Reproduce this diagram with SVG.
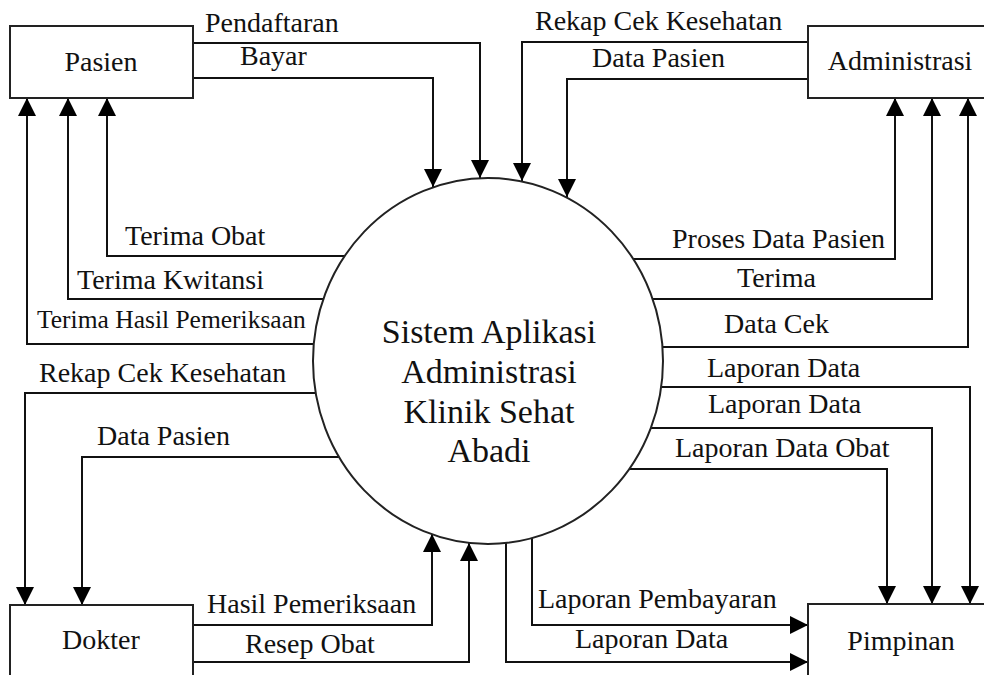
<svg xmlns="http://www.w3.org/2000/svg" width="984" height="675" viewBox="0 0 984 675">
<defs>
<marker id="ah" markerUnits="userSpaceOnUse" markerWidth="18" markerHeight="18" viewBox="0 0 16 16" refX="16" refY="8" orient="auto">
<path d="M0,0 L16,8 L0,16 Z" fill="#000"/>
</marker>
<style>
.box{fill:#fff;stroke:#222;stroke-width:2}
.ln{fill:none;stroke:#111;stroke-width:2}
.ar{marker-end:url(#ah)}
text{font-family:"Liberation Serif","Times New Roman",serif;fill:#111}
.lb{font-size:28px}
.sm{font-size:25.5px}
.nd{font-size:28px;text-anchor:middle}
.ct{font-size:34px;text-anchor:middle}
</style>
</defs>
<rect width="984" height="675" fill="#fff"/>
<g id="connectors">
<path class="ln ar" d="M193,43 H480 V178"/>
<path class="ln ar" d="M193,78 H433 V187"/>
<path class="ln ar" d="M808,42 H522 V181"/>
<path class="ln ar" d="M808,79 H567 V197"/>
<path class="ln ar" d="M345,256 H107 V98"/>
<path class="ln ar" d="M323,299 H68 V98"/>
<path class="ln ar" d="M314,344 H27 V98"/>
<path class="ln ar" d="M316,393 H25 V605"/>
<path class="ln ar" d="M339,457 H82 V605"/>
<path class="ln ar" d="M193,625 H432 V534"/>
<path class="ln ar" d="M193,662 H469 V543"/>
<path class="ln ar" d="M532,538 V625 H808"/>
<path class="ln ar" d="M506,543 V662 H808"/>
<path class="ln ar" d="M633,259 H895 V98"/>
<path class="ln ar" d="M653,299 H932 V98"/>
<path class="ln ar" d="M662,347 H968 V98"/>
<path class="ln ar" d="M661,387 H970 V604"/>
<path class="ln ar" d="M651,428 H932 V604"/>
<path class="ln ar" d="M629,469 H887 V604"/>
</g>
<g id="labels">
<text class="lb" x="205" y="32">Pendaftaran</text>
<text class="lb" x="240" y="65">Bayar</text>
<text class="lb" x="535" y="30">Rekap Cek Kesehatan</text>
<text class="lb" x="592" y="67">Data Pasien</text>
<text class="lb" x="125" y="245">Terima Obat</text>
<text class="lb" x="77" y="289">Terima Kwitansi</text>
<text class="sm" x="37" y="328">Terima Hasil Pemeriksaan</text>
<text class="lb" x="39" y="382">Rekap Cek Kesehatan</text>
<text class="lb" x="97" y="445">Data Pasien</text>
<text class="lb" x="207" y="613">Hasil Pemeriksaan</text>
<text class="lb" x="245" y="653">Resep Obat</text>
<text class="lb" x="538" y="608">Laporan Pembayaran</text>
<text class="lb" x="575" y="648">Laporan Data</text>
<text class="lb" x="672" y="248">Proses Data Pasien</text>
<text class="lb" x="737" y="287">Terima</text>
<text class="lb" x="724" y="333">Data Cek</text>
<text class="lb" x="707" y="377">Laporan Data</text>
<text class="lb" x="708" y="413">Laporan Data</text>
<text class="lb" x="675" y="457">Laporan Data Obat</text>
</g>
<g id="process">
<ellipse class="box" cx="488" cy="361" rx="175" ry="183"/>
<text class="ct" x="489" y="343">Sistem Aplikasi</text>
<text class="ct" x="489" y="383">Administrasi</text>
<text class="ct" x="489" y="423">Klinik Sehat</text>
<text class="ct" x="489" y="462">Abadi</text>
</g>
<g id="pasien">
<rect class="box" x="10" y="26" width="183" height="72"/>
<text class="nd" x="101" y="71">Pasien</text>
</g>
<g id="administrasi">
<rect class="box" x="808" y="26" width="190" height="72"/>
<text class="nd" x="900" y="70">Administrasi</text>
</g>
<g id="dokter">
<rect class="box" x="10" y="605" width="183" height="90"/>
<text class="nd" x="101" y="649">Dokter</text>
</g>
<g id="pimpinan">
<rect class="box" x="808" y="604" width="190" height="90"/>
<text class="nd" x="901" y="650">Pimpinan</text>
</g>
</svg>
